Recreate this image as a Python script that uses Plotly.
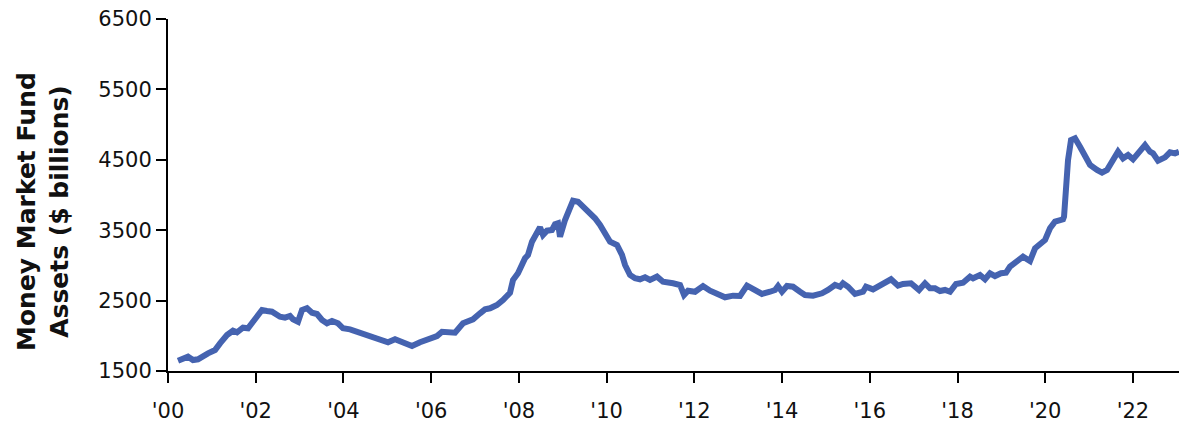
import plotly.graph_objects as go

# Observation dates as decimal years, and money market fund assets in $ billions
dates = [2000.228, 2000.456, 2000.570, 2000.684, 2000.912, 2001.072, 2001.186, 2001.345, 2001.482,
         2001.573, 2001.710, 2001.824, 2001.938, 2002.052, 2002.143, 2002.257, 2002.371, 2002.554,
         2002.668, 2002.782, 2002.850, 2002.964, 2003.055, 2003.169, 2003.283, 2003.397, 2003.511,
         2003.625, 2003.739, 2003.876, 2003.990, 2004.150, 2004.378, 2004.606, 2004.834, 2005.016,
         2005.176, 2005.358, 2005.563, 2005.746, 2005.974, 2006.133, 2006.247, 2006.361, 2006.544,
         2006.726, 2006.954, 2007.114, 2007.228, 2007.342, 2007.501, 2007.638, 2007.729, 2007.798,
         2007.866, 2007.980, 2008.140, 2008.208, 2008.299, 2008.390, 2008.482, 2008.550, 2008.641,
         2008.755, 2008.824, 2008.892, 2008.938, 2009.052, 2009.166, 2009.234, 2009.348, 2009.462,
         2009.622, 2009.736, 2009.850, 2009.964, 2010.078, 2010.237, 2010.351, 2010.420, 2010.534,
         2010.648, 2010.761, 2010.876, 2010.990, 2011.149, 2011.286, 2011.514, 2011.674, 2011.765,
         2011.856, 2012.016, 2012.198, 2012.358, 2012.517, 2012.700, 2012.882, 2013.042, 2013.201,
         2013.383, 2013.543, 2013.726, 2013.840, 2013.908, 2013.999, 2014.113, 2014.250, 2014.410,
         2014.524, 2014.706, 2014.911, 2015.048, 2015.208, 2015.322, 2015.390, 2015.504, 2015.664,
         2015.846, 2015.914, 2016.074, 2016.233, 2016.370, 2016.484, 2016.644, 2016.758, 2016.940,
         2017.123, 2017.259, 2017.373, 2017.487, 2017.601, 2017.716, 2017.830, 2017.966, 2018.126,
         2018.286, 2018.354, 2018.513, 2018.627, 2018.741, 2018.855, 2018.992, 2019.106, 2019.197,
         2019.357, 2019.425, 2019.494, 2019.653, 2019.768, 2019.996, 2020.109, 2020.223, 2020.337,
         2020.406, 2020.429, 2020.474, 2020.520, 2020.588, 2020.679, 2020.793, 2020.907, 2021.022,
         2021.181, 2021.295, 2021.409, 2021.523, 2021.591, 2021.660, 2021.774, 2021.888, 2022.002,
         2022.093, 2022.184, 2022.275, 2022.389, 2022.458, 2022.572, 2022.731, 2022.845, 2022.959,
         2023.050]
assets = [1646, 1703, 1656, 1666, 1751, 1798, 1893, 2011, 2072, 2050, 2115, 2107, 2200, 2281,
          2366, 2352, 2342, 2271, 2257, 2281, 2234, 2200, 2366, 2391, 2328, 2310, 2224, 2178,
          2210, 2178, 2107, 2092, 2044, 2011, 1964, 1908, 1950, 1902, 1855, 1908, 1955, 1997,
          2058, 2050, 2044, 2178, 2234, 2320, 2376, 2391, 2438, 2509, 2580, 2612, 2793, 2888,
          3101, 3148, 3337, 3456, 3541, 3432, 3493, 3503, 3584, 3598, 3408, 3645, 3811, 3919,
          3905, 3834, 3763, 3669, 3574, 3432, 3337, 3290, 3148, 3006, 2864, 2817, 2803, 2831,
          2793, 2840, 2768, 2746, 2722, 2580, 2641, 2626, 2707, 2641, 2589, 2547, 2570, 2565,
          2712, 2651, 2594, 2626, 2651, 2707, 2626, 2707, 2697, 2626, 2580, 2570, 2604, 2651,
          2722, 2697, 2746, 2697, 2594, 2626, 2697, 2660, 2722, 2754, 2803, 2712, 2736, 2746,
          2651, 2746, 2675, 2675, 2636, 2651, 2626, 2736, 2754, 2840, 2817, 2864, 2803, 2888,
          2849, 2888, 2896, 2982, 3053, 3077, 3124, 3062, 3243, 3361, 3527, 3621, 3655, 3655,
          3692, 4118, 4497, 4781, 4805, 4686, 4568, 4426, 4355, 4317, 4355, 4473, 4544, 4615,
          4521, 4568, 4507, 4568, 4629, 4710, 4615, 4592, 4487, 4535, 4607, 4592, 4615, 4649]

# Two-year tick marks along the date axis
year_ticks = [2000, 2002, 2004, 2006, 2008, 2010, 2012, 2014, 2016, 2018, 2020, 2022]
year_labels = ["'00", "'02", "'04", "'06", "'08", "'10", "'12", "'14", "'16", "'18", "'20", "'22"]

y_ticks = [1500, 2500, 3500, 4500, 5500, 6500]

fig = go.Figure()
fig.add_trace(go.Scatter(
    x=dates, y=assets, mode="lines",
    line=dict(color="#4563B0", width=6, shape="linear"),
    hoverinfo="skip", showlegend=False,
))

axis_font = dict(family="DejaVu Sans, Arial, sans-serif", size=21, color="#111111")

fig.update_layout(
    width=1179, height=424,
    margin=dict(l=168, r=0, t=19, b=53),
    paper_bgcolor="white", plot_bgcolor="white",
    xaxis=dict(
        range=[2000, 2023.05], tickmode="array", tickvals=year_ticks, ticktext=year_labels,
        showgrid=False, zeroline=False, showline=True, linecolor="black", linewidth=2,
        ticks="outside", ticklen=10, tickwidth=1.5, tickcolor="black",
        tickfont=axis_font, ticklabelstandoff=10,
    ),
    yaxis=dict(
        range=[1500, 6500], tickmode="array", tickvals=y_ticks,
        showgrid=False, zeroline=False, showline=True, linecolor="black", linewidth=2,
        ticks="outside", ticklen=10, tickwidth=1.5, tickcolor="black",
        tickfont=axis_font,
    ),
    annotations=[dict(
        text="<b>Money Market Fund<br>Assets ($ billions)</b>",
        xref="paper", yref="paper", x=-0.1236, y=0.452,
        xanchor="center", yanchor="middle", textangle=-90, showarrow=False,
        font=dict(family="DejaVu Sans, Arial, sans-serif", size=25, color="#111111"),
    )],
)

fig.write_html("out.html")
